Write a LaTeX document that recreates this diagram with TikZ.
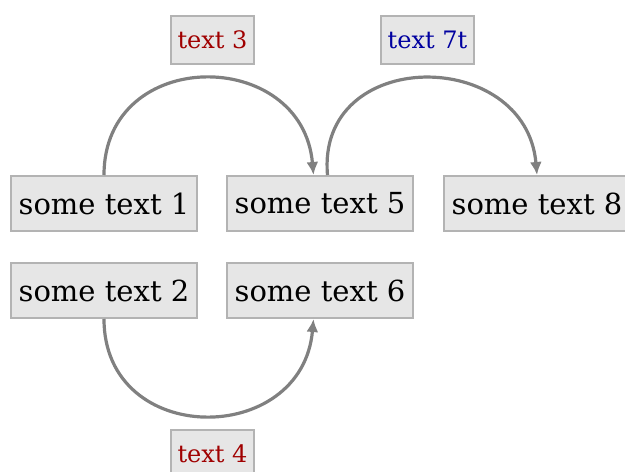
\documentclass[tikz,border=0pt]{standalone}
\usepackage{fontspec}
\setmainfont{DejaVu Serif}
\usepackage{tikz}
\usetikzlibrary{positioning, arrows.meta}
\definecolor{boxfill}{HTML}{E6E6E6}
\definecolor{boxline}{HTML}{B3B3B3}
\definecolor{textred}{HTML}{A00000}
\definecolor{textblue}{HTML}{0000A0}
\tikzset{main node/.style={rectangle, draw=boxline, fill=boxfill, line width=2pt, minimum width=186pt, minimum height=55pt, inner sep=0pt, font=\fontsize{29}{34}\selectfont},
	tag node/.style={rectangle, draw=boxline, fill=boxfill, line width=2pt, minimum height=48pt, inner xsep=7pt, inner ysep=0pt, font=\fontsize{24}{28}\selectfont},
	link/.style={draw=gray, line width=3.2pt, -{Latex[length=13pt,width=12pt]}},}

\begin{document}
\begin{tikzpicture}[x=1pt, y=1pt]
	\useasboundingbox (0,0) rectangle (625,472);
	% Boxes
	\node[main node] (n1) at (104,268.5) {some text 1};
	\node[main node] [right = 28pt of n1] (n5) {some text 5};
	\node[main node] [right = 29pt of n5] (n8) {some text 8};
	\node[main node] [below = 30pt of n1] (n2) {some text 2};
	\node[main node] [below = 30pt of n5] (n6) {some text 6};
	% Tags
	\node[tag node, text=textred] (t3) at (212.5,432) {text 3};
	\node[tag node, text=textblue] (t7) at (427.5,432) {text 7t};
	\node[tag node, text=textred] (t4) at (212.5,18) {text 4};
	% Paths
	\draw[link] (n1.north) to[out=90, in=95, looseness=1.58] ([xshift=-6.5pt]n5.north);
	\draw[link] ([xshift=7.5pt]n5.north) to[out=95, in=95, looseness=1.58] (n8.north);
	\draw[link] (n2.south) to[out=-90, in=-95, looseness=1.58] ([xshift=-6.5pt]n6.south);
\end{tikzpicture}
\end{document}
